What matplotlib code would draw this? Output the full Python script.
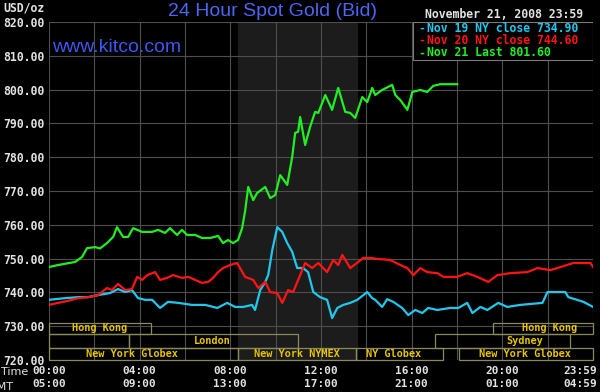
#!/usr/bin/env python3
"""
24 Hour Spot Gold (Bid) - kitco style intraday chart, Nov 21 2008.
"""

import matplotlib
matplotlib.use('Agg')
import matplotlib.pyplot as plt
import matplotlib.transforms as mtransforms
from matplotlib.patches import Rectangle

# --- data (hours since 00:00 NY time, USD/oz) ---
nov19_t = [0.0, 0.71, 1.28, 1.72, 2.16, 2.69, 3.05, 3.36, 3.66, 3.93, 4.24, 4.55,
           4.90, 5.25, 5.70, 6.31, 6.89, 7.42, 7.86, 8.21, 8.57, 8.96, 9.09, 9.32,
           9.54, 9.67, 9.85, 10.07, 10.29, 10.51, 10.73, 10.95, 11.21, 11.43, 11.66,
           11.96, 12.27, 12.49, 12.72, 12.98, 13.29, 13.60, 14.04, 14.26, 14.39,
           14.70, 14.92, 15.19, 15.58, 15.85, 16.16, 16.47, 16.73, 17.13, 17.70,
           18.06, 18.45, 18.68, 19.03, 19.34, 19.82, 20.22, 20.79, 21.77, 21.99,
           22.78, 22.91, 23.58, 24.0]
nov19_p = [737.8, 738.3, 738.6, 738.6, 739.2, 739.8, 741.0, 740.1, 740.7, 738.3,
           737.8, 737.8, 735.4, 737.2, 736.9, 736.3, 736.3, 735.4, 736.9, 735.7,
           735.7, 736.3, 734.8, 740.7, 743.1, 745.1, 752.5, 759.3, 757.9, 754.6,
           752.0, 747.2, 747.2, 746.0, 740.1, 738.6, 737.8, 732.4, 735.4, 736.3,
           736.9, 737.8, 740.1, 738.3, 737.8, 735.7, 738.0, 737.2, 735.4, 733.3,
           734.8, 733.9, 735.4, 734.8, 735.4, 735.4, 736.9, 733.9, 735.7, 734.8,
           736.9, 735.7, 736.3, 736.9, 740.1, 740.1, 738.6, 737.2, 735.7]

nov20_t = [0.0, 0.40, 0.84, 1.28, 1.72, 2.16, 2.56, 2.78, 3.05, 3.36, 3.66, 3.89,
           4.11, 4.33, 4.68, 4.90, 5.21, 5.47, 5.87, 6.14, 6.45, 6.75, 7.02, 7.24,
           7.46, 7.68, 7.99, 8.30, 8.43, 8.65, 9.01, 9.23, 9.54, 9.76, 10.07, 10.29,
           10.55, 10.77, 11.08, 11.30, 11.61, 11.88, 12.27, 12.54, 12.76, 12.94,
           13.29, 13.64, 13.86, 14.17, 14.48, 15.05, 15.50, 15.81, 16.07, 16.38,
           16.69, 17.13, 17.40, 18.01, 18.45, 18.90, 19.38, 19.78, 20.35, 21.10,
           21.55, 22.12, 22.56, 23.13, 23.58, 23.89, 24.0]
nov20_p = [736.3, 736.9, 737.5, 738.3, 738.6, 739.2, 741.3, 740.7, 742.5, 740.7,
           741.0, 744.6, 743.7, 745.1, 746.0, 743.7, 744.3, 745.1, 744.3, 744.6,
           743.7, 742.8, 743.1, 744.3, 746.0, 747.2, 748.1, 748.7, 747.2, 744.6,
           743.7, 741.3, 743.1, 740.1, 739.8, 736.9, 740.7, 740.1, 745.1, 748.7,
           747.2, 748.7, 746.0, 749.6, 748.1, 751.1, 747.2, 749.0, 750.2, 750.2,
           749.9, 749.6, 748.1, 747.2, 745.1, 747.2, 746.0, 745.7, 744.6, 744.6,
           745.7, 744.6, 743.1, 745.1, 745.7, 746.0, 747.2, 746.6, 747.5, 748.7,
           748.7, 748.7, 747.5]

nov21_t = [0.0, 0.40, 1.15, 1.46, 1.68, 2.03, 2.25, 2.56, 2.83, 3.00, 3.27, 3.49,
           3.71, 4.11, 4.55, 4.81, 5.12, 5.34, 5.65, 5.87, 6.09, 6.45, 6.75, 7.11,
           7.46, 7.68, 7.90, 8.12, 8.34, 8.52, 8.65, 8.79, 9.01, 9.18, 9.54, 9.76,
           9.98, 10.20, 10.51, 10.73, 10.86, 10.99, 11.08, 11.30, 11.52, 11.74,
           11.88, 12.19, 12.49, 12.76, 13.07, 13.29, 13.51, 13.82, 14.04, 14.26,
           14.39, 14.70, 15.14, 15.28, 15.50, 15.81, 16.03, 16.38, 16.69, 16.95,
           17.26, 18.01]
nov21_p = [747.5, 748.1, 749.0, 750.5, 753.1, 753.4, 753.0, 754.6, 756.4, 759.3,
           756.4, 756.4, 759.0, 757.9, 757.9, 758.5, 757.6, 759.0, 757.0, 758.5,
           757.0, 757.0, 756.1, 756.1, 756.7, 754.6, 755.5, 754.6, 755.5, 759.0,
           764.0, 771.2, 767.3, 769.4, 771.2, 767.9, 768.8, 774.7, 771.8, 780.1,
           787.2, 787.5, 791.9, 783.6, 789.0, 793.4, 793.1, 798.4, 794.0, 800.5,
           793.4, 793.1, 791.6, 797.8, 796.3, 800.5, 798.4, 799.9, 801.4, 798.4,
           796.9, 794.0, 799.3, 799.9, 799.3, 801.1, 801.6, 801.6]

legend_labels = ['Nov 19 NY close 734.90', 'Nov 20 NY close 744.60', 'Nov 21 Last 801.60']

# trading sessions shown along the bottom (row 0 = top row)
session_row = [0, 0, 1, 1, 1, 2, 2, 2, 2]
session_start = [0.0, 19.6, 0.0, 3.55, 17.04, 0.0, 8.34, 13.55, 18.1]
session_end = [4.5, 24.0, 3.55, 11.0, 23.0, 8.34, 13.55, 17.4, 24.0]
session_name = ['Hong Kong', 'Hong Kong', '', 'London', 'Sydney',
                'New York Globex', 'New York NYMEX', 'NY Globex', 'New York Globex']
session_label_at = [2.25, 22.1, 0, 7.2, 21.0, 3.66, 10.95, 15.2, 21.0]

nymex_open, nymex_close = 8.34, 13.6

time_ticks = [0, 4, 8, 12, 16, 20, 24]
time_ny = ['00:00', '04:00', '08:00', '12:00', '16:00', '20:00', '23:59']
time_gmt = ['05:00', '09:00', '13:00', '17:00', '21:00', '01:00', '04:59']
price_ticks = [720, 730, 740, 750, 760, 770, 780, 790, 800, 810, 820]

# --- style ---
BG = 'black'
GRID = '#4e4e4e'
TXT = '#e2e2e2'
MONO = 'DejaVu Sans Mono'
C19, C20, C21 = '#20c8f0', '#ff1414', '#22ee22'
SESS_EDGE = '#8a8a5c'
SESS_TXT = '#e8c400'
W, H = 600, 392


def fx(px):
    return px / W


def fy(py):
    return 1 - py / H


fig = plt.figure(figsize=(6.0, 3.92), dpi=100, facecolor=BG)
ax = fig.add_axes([fx(49), fy(360), fx(593) - fx(49), fy(22) - fy(360)])
ax.set_facecolor(BG)
ax.set_xlim(0, 24)
ax.set_ylim(720, 820)

# NYMEX pit session shading
ax.axvspan(nymex_open, nymex_close, color='#1c1c1c', zorder=0)

for v in price_ticks:
    ax.axhline(v, color=GRID, lw=0.8, zorder=1)
for t in range(0, 25, 2):
    ax.axvline(t, color=GRID, lw=0.8, zorder=1)

for s in ax.spines.values():
    s.set_visible(False)

# price lines
ax.plot(nov19_t, nov19_p, color=C19, lw=1.6, zorder=4)
ax.plot(nov20_t, nov20_p, color=C20, lw=1.6, zorder=4)
ax.plot(nov21_t, nov21_p, color=C21, lw=1.6, zorder=5)

# session boxes
row_top = [731.0, 727.7, 723.6]
row_bot = [727.7, 723.6, 720.0]
for r, a, b, name, lx in zip(session_row, session_start, session_end,
                             session_name, session_label_at):
    ax.add_patch(Rectangle((a, row_bot[r]), b - a, row_top[r] - row_bot[r],
                           facecolor='none', edgecolor=SESS_EDGE, lw=0.9,
                           zorder=6, clip_on=False))
    if name:
        ax.text(lx, (row_top[r] + row_bot[r]) / 2, name, color=SESS_TXT,
                fontsize=7.4, family=MONO, weight='bold', ha='center',
                va='center', zorder=7)

# legend box
ax.add_patch(Rectangle((16.07, 808.8), 24 - 16.07, 820 - 808.8, facecolor=BG,
                       edgecolor='#7a7a7a', lw=0.8, zorder=3))
for i, (lab, c) in enumerate(zip(legend_labels, [C19, C20, C21])):
    y = fy(28 + i * 12.5)
    fig.text(fx(418), y, '-', color=c, fontsize=8.3, family=MONO,
             weight='bold', va='center')
    fig.text(fx(427), y, lab, color=c, fontsize=8.3, family=MONO,
             weight='bold', va='center')

# axes ticks
ax.set_yticks(price_ticks)
ax.set_yticklabels([f'{v:.2f}' for v in price_ticks], family=MONO,
                   fontsize=8.3, color=TXT, weight='bold')
ax.set_xticks(time_ticks)
ax.set_xticklabels([f'{a}\n{b}' for a, b in zip(time_ny, time_gmt)],
                   family=MONO, fontsize=8.0, color=TXT, weight='bold',
                   linespacing=1.45)
ax.tick_params(axis='x', length=0, pad=4)
ax.tick_params(axis='y', length=0, pad=3)
last = ax.get_xticklabels()[-1]
last.set_ha('right')
last.set_transform(last.get_transform() +
                   mtransforms.ScaledTranslation(4 / 100, 0, fig.dpi_scale_trans))

# header texts
fig.text(fx(273), fy(12), '24 Hour Spot Gold (Bid)', color='#4a66f2',
         fontsize=14, family='Liberation Sans', ha='center', va='center')
fig.text(fx(52), fy(48), 'www.kitco.com', color='#3a58ee',
         fontsize=14, family='Liberation Sans', ha='left', va='center')
fig.text(fx(583), fy(15), 'November 21, 2008 23:59', color=TXT,
         fontsize=8.3, family=MONO, weight='bold', ha='right', va='center')
fig.text(fx(3), fy(8), 'USD/oz', color=TXT, fontsize=8.3, family=MONO,
         weight='bold', ha='left', va='center')
fig.text(fx(28), fy(372), 'Time', color=TXT, fontsize=8, ha='right', va='center')
fig.text(fx(13), fy(387), 'GMT', color=TXT, fontsize=8, ha='right', va='center')

fig.savefig('out.png', dpi=100, facecolor=BG)
print("Created out.png")
